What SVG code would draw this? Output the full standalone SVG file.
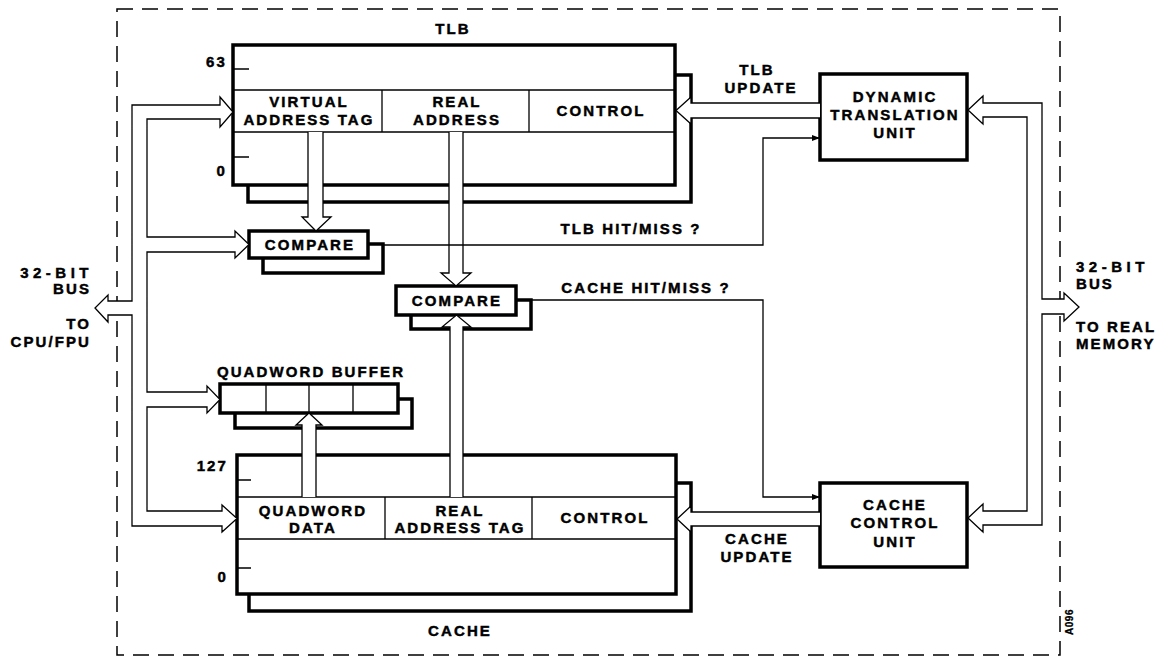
<svg xmlns="http://www.w3.org/2000/svg" width="1171" height="656" viewBox="0 0 1171 656">
<style>
.t{font-family:"Liberation Sans",Arial,Helvetica,sans-serif;font-weight:bold;font-size:15px;letter-spacing:2.1px;fill:#000;stroke:#000;stroke-width:0.45;text-anchor:middle}
.e{text-anchor:end}
.s{text-anchor:start}
.w{letter-spacing:4.5px}
.box{fill:#fff;stroke:#000;stroke-width:3.5}
.thin{fill:none;stroke:#000;stroke-width:1.3}
.hollow{fill:#fff;stroke:#000;stroke-width:1.3;stroke-linejoin:miter}
.border{fill:none;stroke:#000;stroke-width:1.5;stroke-dasharray:16 9}
</style>
<defs>
<marker id="ah" markerWidth="8" markerHeight="8" refX="8" refY="4" orient="auto" markerUnits="userSpaceOnUse">
<path d="M0,1 L8,4 L0,7 Z" fill="#000"/>
</marker>
</defs>
<rect width="1171" height="656" fill="#fff"/>
<rect class="border" x="117" y="9" width="943" height="646"/>

<g id="tlb">
<rect class="box" x="248" y="75" width="443" height="127"/>
<rect class="box" x="233" y="45" width="442" height="140"/>
<path class="thin" d="M233,90 H675 M233,132 H675 M382,90 V132 M529,90 V132 M233,69 H249 M233,157 H249"/>
<text class="t" x="453" y="34">TLB</text>
<text class="t e" x="227" y="67">63</text>
<text class="t e" x="227" y="176">0</text>
<text class="t" x="309" y="107">VIRTUAL</text>
<text class="t" x="309" y="125">ADDRESS TAG</text>
<text class="t" x="457" y="107">REAL</text>
<text class="t" x="457" y="125">ADDRESS</text>
<text class="t" x="601" y="116">CONTROL</text>
</g>

<g id="compare-tlb">
<rect class="box" x="263" y="244" width="120" height="29"/>
<rect class="box" x="249" y="231" width="119" height="27"/>
<text class="t" x="310" y="250">COMPARE</text>
</g>

<g id="compare-cache">
<rect class="box" x="411" y="300" width="120" height="29"/>
<rect class="box" x="396" y="286" width="120" height="29"/>
<text class="t" x="457" y="306">COMPARE</text>
</g>

<g id="quadword-buffer">
<rect class="box" x="235" y="399" width="177" height="29"/>
<rect class="box" x="220" y="384" width="178" height="29"/>
<path class="thin" d="M266,384 V413 M309,384 V413 M353,384 V413"/>
<text class="t" x="311" y="377">QUADWORD BUFFER</text>
</g>

<g id="cache">
<rect class="box" x="249" y="483" width="442" height="128"/>
<rect class="box" x="237" y="455" width="439" height="139"/>
<path class="thin" d="M237,497 H676 M237,539 H676 M385,497 V539 M532,497 V539 M237,480 H251 M237,568 H251"/>
<text class="t e" x="228" y="471">127</text>
<text class="t e" x="228" y="582">0</text>
<text class="t" x="313" y="516">QUADWORD</text>
<text class="t" x="313" y="533">DATA</text>
<text class="t" x="460" y="516">REAL</text>
<text class="t" x="460" y="533">ADDRESS TAG</text>
<text class="t" x="605" y="523">CONTROL</text>
<text class="t" x="460" y="636">CACHE</text>
</g>

<g id="dtu">
<rect class="box" x="820" y="74" width="147" height="86"/>
<text class="t" x="895" y="102">DYNAMIC</text>
<text class="t" x="895" y="120">TRANSLATION</text>
<text class="t" x="895" y="138">UNIT</text>
</g>

<g id="ccu">
<rect class="box" x="820" y="483" width="147" height="84"/>
<text class="t" x="895" y="510">CACHE</text>
<text class="t" x="895" y="528">CONTROL</text>
<text class="t" x="895" y="547">UNIT</text>
</g>

<g id="connectors">
<path class="hollow" d="M220,97 L233,112 L220,127 V119 H147 V237 H235 V231 L249,244.5 L235,258 V252 H147 V392 H207 V386 L220,399.5 L207,413 V407 H147 V511 H222 V505 L237,518.5 L222,532 V526 H132 V315 H108 V322 L95,308 L108,295 V301 H132 V105 H220 Z"/>
<path class="hollow" d="M983,96 L968,110 L983,124 V117 H1027 V511 H983 V504 L968,518 L983,532 V525 H1042 V314 H1064 V321 L1079,307 L1064,293 V299 H1042 V103 H983 Z"/>
<path class="hollow" d="M820,103 H691 V97 L676,110.5 L691,124 V118 H820"/>
<path class="hollow" d="M820,512 H691 V506 L677,519 L691,532 V526 H820"/>
<path class="hollow" d="M308,132 V217 H302 L316,231 L331,217 H323 V132"/>
<path class="hollow" d="M449,132 V273 H441 L456,286 L471,273 H463 V132"/>
<path class="hollow" d="M450,497 V327 H442 L456.5,315 L471,327 H463 V497"/>
<path class="hollow" d="M302,497 V425 H296 L309,413 L322,425 H316 V497"/>
<path class="thin" d="M383,245 H763 V138 H820" marker-end="url(#ah)"/>
<path class="thin" d="M531,300 H763 V497 H820" marker-end="url(#ah)"/>
</g>

<g id="labels">
<text class="t" x="757" y="75">TLB</text>
<text class="t" x="761" y="93">UPDATE</text>
<text class="t" x="631" y="234">TLB HIT/MISS ?</text>
<text class="t" x="646" y="293">CACHE HIT/MISS ?</text>
<text class="t" x="757" y="544">CACHE</text>
<text class="t" x="757" y="562">UPDATE</text>
<text class="t e w" x="93" y="278">32-BIT</text>
<text class="t e" x="91" y="294">BUS</text>
<text class="t e" x="91" y="329">TO</text>
<text class="t e" x="91" y="347">CPU/FPU</text>
<text class="t s w" x="1076" y="272">32-BIT</text>
<text class="t s" x="1076" y="289">BUS</text>
<text class="t s" x="1076" y="332">TO REAL</text>
<text class="t s" x="1076" y="349">MEMORY</text>
<text class="t" style="font-size:10px;letter-spacing:0.5px;stroke-width:0.3" x="1073" y="622" transform="rotate(-90 1073 622)">A096</text>
</g>
</svg>
